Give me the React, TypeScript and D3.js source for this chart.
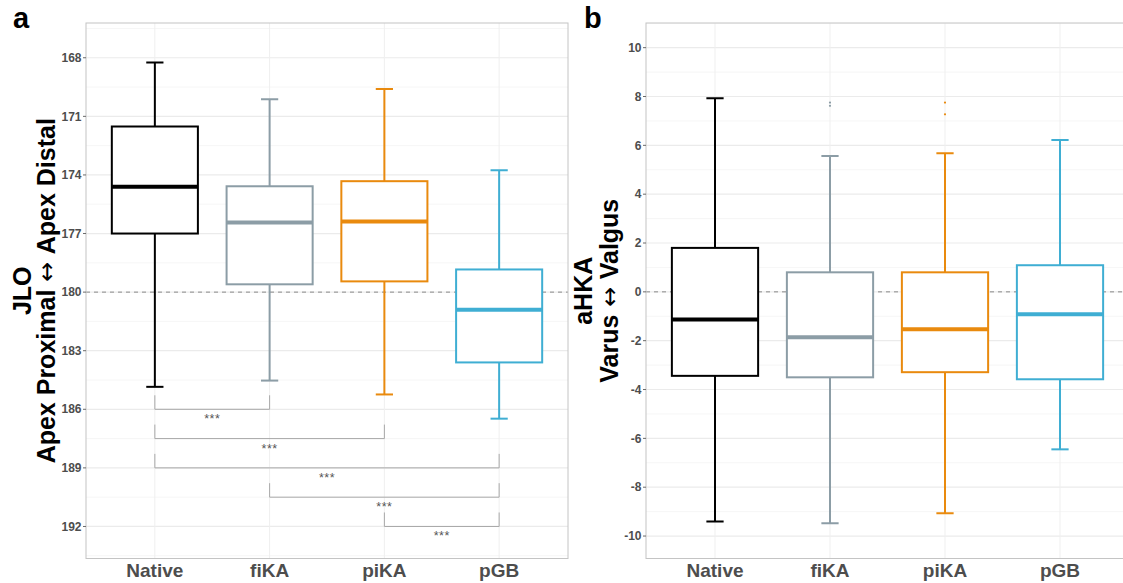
import React from 'react';
import * as d3 from 'd3';

const groups = ['Native', 'fiKA', 'piKA', 'pGB'];
const groupColors = ['#000000', '#8C9DA6', '#E98A0E', '#3FAED3'];

// panel a: JLO (deg), axis is reversed
const jloLow = [168.24, 170.12, 169.6, 173.76];
const jloQ1 = [171.52, 174.58, 174.32, 178.84];
const jloMedian = [174.6, 176.43, 176.38, 180.9];
const jloQ3 = [177.0, 179.6, 179.45, 183.6];
const jloHigh = [184.85, 184.53, 185.24, 186.48];
const jloTicks = [168, 171, 174, 177, 180, 183, 186, 189, 192];
const jloMinor = [166.5, 169.5, 172.5, 175.5, 178.5, 181.5, 184.5, 187.5, 190.5, 193.5];

const sigPairs = [[0, 1], [0, 2], [0, 3], [1, 3], [2, 3]];
const sigLevels = [186, 187.5, 189, 190.5, 192];
const sigLabels = ['***', '***', '***', '***', '***'];

// panel b: aHKA (deg)
const hkaLow = [-9.4, -9.48, -9.07, -6.45];
const hkaQ1 = [-3.44, -3.5, -3.29, -3.58];
const hkaMedian = [-1.13, -1.86, -1.53, -0.92];
const hkaQ3 = [1.8, 0.8, 0.8, 1.09];
const hkaHigh = [7.93, 5.56, 5.68, 6.22];
const hkaOutliers = [[], [7.75, 7.62], [7.75, 7.27], []];
const hkaTicks = [-10, -8, -6, -4, -2, 0, 2, 4, 6, 8, 10];
const hkaMinor = [-11, -9, -7, -5, -3, -1, 1, 3, 5, 7, 9, 11];

const W = 1123;
const H = 583;
const TOP = 23;
const BOTTOM = 558.5;
const FONT = '"Liberation Sans", Arial, Helvetica, sans-serif';
const AXIS_TEXT = '#4D4D4D';

type PanelProps = {
  left: number;
  right: number;
  y: d3.ScaleLinear<number, number>;
  ticks: number[];
  minor: number[];
  refValue: number;
  low: number[];
  q1: number[];
  med: number[];
  q3: number[];
  high: number[];
  outliers?: number[][];
  title: [string, [string, string]];
  titleX: [number, number];
  letter: string;
  letterX: number;
  withSig?: boolean;
};

function Panel(p: PanelProps) {
  const x = d3.scalePoint<string>().domain(groups).range([p.left, p.right]).padding(0.6);
  const step = x.step();
  const boxW = step * 0.75;
  const capW = step * 0.15;
  const midY = (TOP + BOTTOM) / 2;
  const clipId = 'clip-' + p.letter;

  return (
    <g>
      <defs>
        <clipPath id={clipId}>
          <rect x={p.left} y={TOP} width={p.right - p.left} height={BOTTOM - TOP} />
        </clipPath>
      </defs>
      <g clipPath={`url(#${clipId})`}>
        {p.minor.map(v => (
          <line key={'mi' + v} x1={p.left} x2={p.right} y1={p.y(v)} y2={p.y(v)} stroke="#F4F4F4" strokeWidth={0.8} />
        ))}
        {p.ticks.map(v => (
          <line key={'ma' + v} x1={p.left} x2={p.right} y1={p.y(v)} y2={p.y(v)} stroke="#EBEBEB" strokeWidth={1.2} />
        ))}
        {groups.map(g => (
          <line key={'vg' + g} x1={x(g)} x2={x(g)} y1={TOP} y2={BOTTOM} stroke="#EFEFEF" strokeWidth={1} />
        ))}
        <line x1={p.left} x2={p.right} y1={p.y(p.refValue)} y2={p.y(p.refValue)}
          stroke="#8A8A8A" strokeWidth={1} strokeDasharray="4,4" />

        {groups.map((g, i) => {
          const cx = x(g) as number;
          const c = groupColors[i];
          const yq1 = p.y(p.q1[i]);
          const yq3 = p.y(p.q3[i]);
          return (
            <g key={'box' + g}>
              <line x1={cx} x2={cx} y1={p.y(p.low[i])} y2={Math.min(yq1, yq3)} stroke={c} strokeWidth={2} />
              <line x1={cx} x2={cx} y1={Math.max(yq1, yq3)} y2={p.y(p.high[i])} stroke={c} strokeWidth={2} />
              <line x1={cx - capW / 2} x2={cx + capW / 2} y1={p.y(p.low[i])} y2={p.y(p.low[i])} stroke={c} strokeWidth={2} />
              <line x1={cx - capW / 2} x2={cx + capW / 2} y1={p.y(p.high[i])} y2={p.y(p.high[i])} stroke={c} strokeWidth={2} />
              <rect x={cx - boxW / 2} y={Math.min(yq1, yq3)} width={boxW} height={Math.abs(yq3 - yq1)}
                fill="#FFFFFF" stroke={c} strokeWidth={2} />
              <line x1={cx - boxW / 2} x2={cx + boxW / 2} y1={p.y(p.med[i])} y2={p.y(p.med[i])} stroke={c} strokeWidth={4} />
              {(p.outliers ? p.outliers[i] : []).map((v, k) => (
                <circle key={k} cx={cx} cy={p.y(v)} r={1.1} fill={c} />
              ))}
            </g>
          );
        })}

        {p.withSig && sigPairs.map(([a, b], k) => {
          const xa = x(groups[a]) as number;
          const xb = x(groups[b]) as number;
          const yl = p.y(sigLevels[k]);
          const tip = 14;
          return (
            <g key={'sig' + k}>
              <path d={`M${xa},${yl - tip}V${yl}H${xb}V${yl - tip}`} fill="none" stroke="#A8A8A8" strokeWidth={1} />
              <text x={(xa + xb) / 2} y={yl + 14} textAnchor="middle" fontSize={12.5} fill="#555555" fontFamily={FONT}
                letterSpacing={0.5}>
                {sigLabels[k]}
              </text>
            </g>
          );
        })}
      </g>
      <rect x={p.left} y={TOP} width={p.right - p.left} height={BOTTOM - TOP} fill="none" stroke="#C4C4C4" strokeWidth={1} />

      {p.ticks.map(v => (
        <g key={'t' + v}>
          <line x1={p.left - 3} x2={p.left} y1={p.y(v)} y2={p.y(v)} stroke="#6A6A6A" strokeWidth={1} />
          <text x={p.left - 4.5} y={p.y(v)} dy="0.35em" textAnchor="end" fontSize={12} fontWeight="bold"
            fill={AXIS_TEXT} fontFamily={FONT}>{v}</text>
        </g>
      ))}
      {groups.map(g => (
        <text key={'xl' + g} x={x(g)} y={577} textAnchor="middle" fontSize={19} fontWeight="bold"
          fill={AXIS_TEXT} fontFamily={FONT}>{g}</text>
      ))}

      <text x={p.titleX[0]} y={midY} transform={`rotate(-90 ${p.titleX[0]} ${midY})`}
        textAnchor="middle" fontSize={25} fontWeight="bold" fill="#000" fontFamily={FONT}>{p.title[0]}</text>
      <text x={p.titleX[1]} y={midY} transform={`rotate(-90 ${p.titleX[1]} ${midY})`}
        textAnchor="middle" fontSize={25} fontWeight="bold" fill="#000" fontFamily={FONT}>
        {p.title[1][0]}
        <tspan fontFamily='"DejaVu Sans", sans-serif' fontWeight="normal" fontSize={24}>{' \u2194 '}</tspan>
        {p.title[1][1]}
      </text>
      <text x={p.letterX} y={28} fontSize={29} fontWeight="bold" fill="#000" fontFamily={FONT}>{p.letter}</text>
    </g>
  );
}

export default function App() {
  const yA = d3.scaleLinear().domain([166.22, 193.64]).range([TOP, BOTTOM]);
  const yB = d3.scaleLinear().domain([-10.92, 11.01]).range([BOTTOM, TOP]);

  return (
    <div style={{ position: 'fixed', left: 0, top: 0, width: W, height: H, overflow: 'hidden', background: '#fff' }}>
      <svg width={W} height={H} viewBox={`0 0 ${W} ${H}`} style={{ display: 'block' }}>
        <rect width={W} height={H} fill="#FFFFFF" />
        <Panel left={86} right={568} y={yA} ticks={jloTicks} minor={jloMinor} refValue={180}
          low={jloLow} q1={jloQ1} med={jloMedian} q3={jloQ3} high={jloHigh}
          title={['JLO', ['Apex Proximal', 'Apex Distal']]} titleX={[31, 55]}
          letter="a" letterX={13} withSig />
        <Panel left={646} right={1129} y={yB} ticks={hkaTicks} minor={hkaMinor} refValue={0}
          low={hkaLow} q1={hkaQ1} med={hkaMedian} q3={hkaQ3} high={hkaHigh} outliers={hkaOutliers}
          title={['aHKA', ['Varus', 'Valgus']]} titleX={[592, 618]}
          letter="b" letterX={584} />
      </svg>
    </div>
  );
}
